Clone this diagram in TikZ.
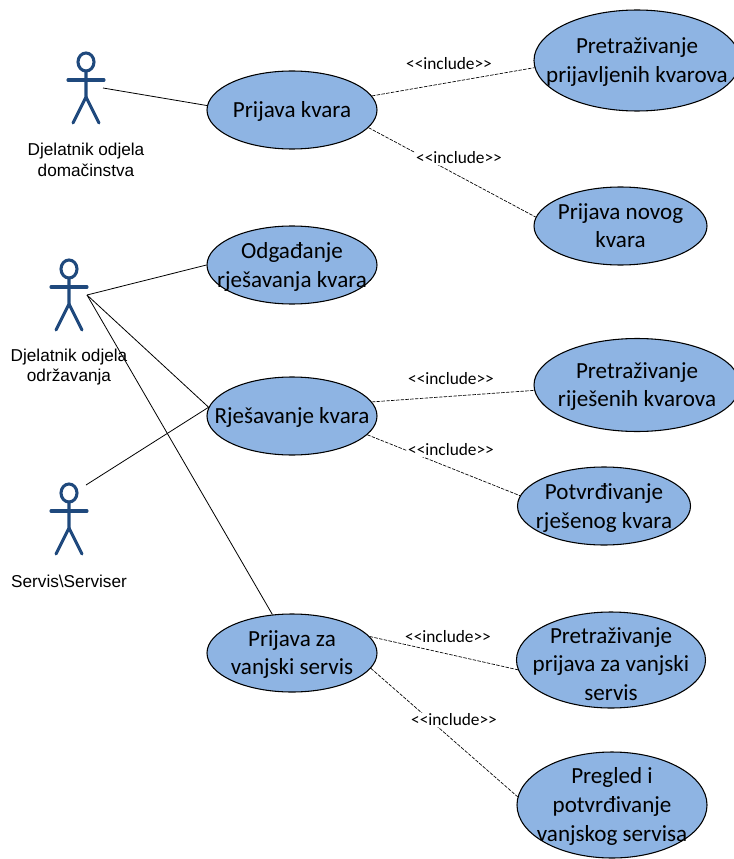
\documentclass[tikz,border=0pt]{standalone}
\usepackage{fontspec}
\setmainfont{Carlito}
\newfontfamily\actorfont{Liberation Sans}
\usetikzlibrary{shapes.geometric}
\definecolor{usecaseblue}{HTML}{8EB4E3}
\definecolor{actorblue}{HTML}{1F497D}
\tikzset{
    usecase/.style 2 args={ellipse, draw=black, thick, fill=usecaseblue, align=center,
        inner xsep=-60pt, inner ysep=-14pt, minimum width=#1*0.75pt, minimum height=#2*0.75pt,
        font=\fontsize{17.3}{21.6}\selectfont, text depth=0.6pt},
    actorline/.style={draw=actorblue, line width=2.3pt, line cap=round},
    actorlabel/.style={align=center, inner sep=0pt, font=\actorfont\fontsize{12.9}{15.4}\selectfont},
    assoc/.style={draw=black, line width=0.6pt},
    includeline/.style={draw=black, line width=0.5pt, dashed, dash pattern=on 2.6pt off 1pt},
    includelabel/.style={inner sep=1pt, font=\fontsize{13}{14}\selectfont},
}
\begin{document}
\begin{tikzpicture}[x=0.75pt, y=-0.75pt]
    \useasboundingbox (0,0) rectangle (734,859);

    % actors
    \foreach \x/\y in {86/62, 69/269, 69/493} {
        \draw[actorline] (\x,\y) ellipse (8pt*0.75 and 9pt*0.75);
        \draw[actorline] (\x,\y+9)--(\x,\y+35)--(\x-13,\y+61);
        \draw[actorline] (\x,\y+35)--(\x+13,\y+61);
        \draw[actorline] (\x-18,\y+18)--(\x+18,\y+18);
    }
    \node[actorlabel] (domacinstvo) at (86,160) {Djelatnik odjela\\ domačinstva};
    \node[actorlabel] (odrzavanje) at (69,367) {Djelatnik odjela\\održavanja};
    \node[actorlabel] (serviser) at (69,581) {Servis\textbackslash Serviser};
    \coordinate (domacinstvoEnd) at (103,88);
    \coordinate (odrzavanjeEnd) at (87,295);
    \coordinate (serviserEnd) at (86,485);

    % use cases
    \node[usecase={170}{78}] (prijava) at (292,110) {Prijava kvara};
    \node[usecase={206}{101}] (pretragaPrijava) at (637,60.5) {Pretraživanje\\prijavljenih kvarova};
    \node[usecase={173}{78}] (novi) at (620.5,226) {Prijava novog\\kvara};
    \node[usecase={170}{78}] (odgoda) at (292,265) {Odgađanje\\rješavanja kvara};
    \node[usecase={170}{78}] (rjesavanje) at (292,416) {Rješavanje kvara};
    \node[usecase={206}{93}] (pretragaRijesenih) at (637,385) {Pretraživanje\\riješenih kvarova};
    \node[usecase={173}{78}] (potvrda) at (604,506) {Potvrđivanje\\rješenog kvara};
    \node[usecase={170}{78}] (vanjski) at (292,653) {Prijava za\\vanjski servis};
    \node[usecase={189}{96}, text depth=0pt, text height=61pt] (pretragaVanjski) at (611,660) {Pretraživanje\\prijava za vanjski\\servis};
    \node[usecase={190}{106}] (pregled) at (612,805) {Pregled i\\potvrđivanje\\vanjskog servisa};

    % associations
    \draw[assoc] (domacinstvoEnd)--(prijava.177);
    \draw[assoc] (odrzavanjeEnd)--(odgoda.180);
    \draw[assoc] (odrzavanjeEnd)--(rjesavanje.174);
    \draw[assoc] (odrzavanjeEnd)--(vanjski.117);
    \draw[assoc] (serviserEnd)--(rjesavanje.174);

    % includes
    \draw[includeline] (prijava.10)--(pretragaPrijava.184);
    \draw[includeline] (prijava.347)--(novi.174);
    \draw[includeline] (rjesavanje.10)--(pretragaRijesenih.183);
    \draw[includeline] (rjesavanje.346)--(potvrda.173);
    \draw[includeline] (vanjski.12)--(pretragaVanjski.186);
    \draw[includeline] (vanjski.349)--(pregled.175);

    \node[includelabel] (incA) at (449,64) {<{}<include>{}>};
    \node[includelabel, fill=white] (incB) at (459,158) {<{}<include>{}>};
    \node[includelabel] (incC) at (451,379) {<{}<include>{}>};
    \node[includelabel, fill=white] (incD) at (451,450) {<{}<include>{}>};
    \node[includelabel, fill=white] (incE) at (448,637) {<{}<include>{}>};
    \node[includelabel, fill=white] (incF) at (454,720) {<{}<include>{}>};
\end{tikzpicture}
\end{document}
